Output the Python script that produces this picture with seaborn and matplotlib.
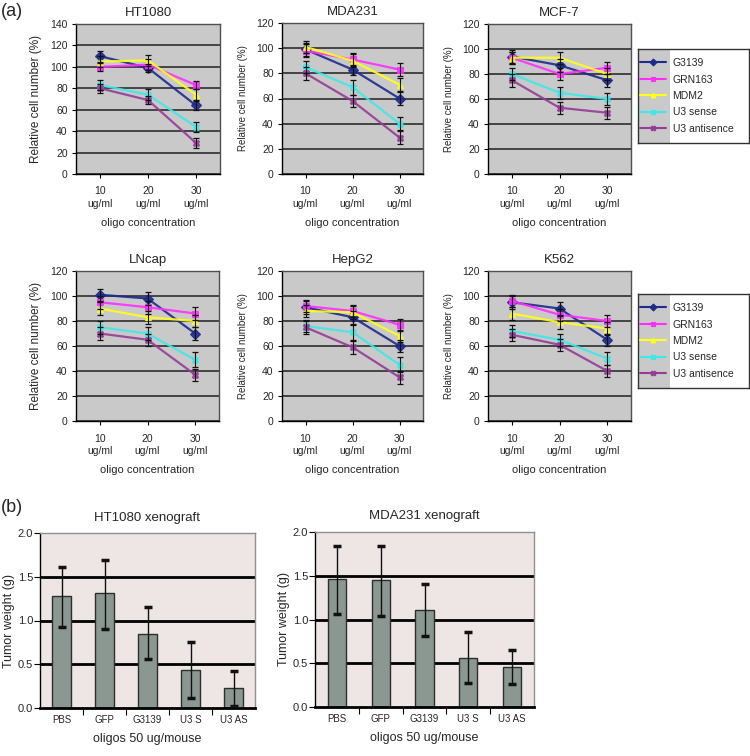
import numpy as np
import pandas as pd
import matplotlib
matplotlib.use("Agg")
import matplotlib.pyplot as plt
from matplotlib import font_manager
from matplotlib.lines import Line2D
from matplotlib.patches import Rectangle
import seaborn as sns

# ---------------- data ----------------
conc_labels = ["10\nug/ml", "20\nug/ml", "30\nug/ml"]
series = ["G3139", "GRN163", "MDM2", "U3 sense", "U3 antisence"]

ht1080 = [[110, 99, 64], [100, 102, 83], [105, 106, 74], [83, 74, 44], [80, 69, 29]]
ht1080_err = [[5, 4, 4], [4, 5, 4], [5, 5, 5], [5, 5, 5], [4, 4, 5]]
mda231 = [[99, 83, 60], [98, 91, 83], [101, 90, 71], [85, 69, 40], [80, 58, 29]]
mda231_err = [[5, 4, 5], [5, 5, 5], [5, 5, 5], [5, 6, 5], [5, 5, 5]]
mcf7 = [[94, 87, 75], [93, 80, 85], [93, 93, 80], [80, 65, 60], [75, 53, 49]]
mcf7_err = [[5, 5, 5], [5, 5, 5], [5, 5, 5], [5, 5, 5], [5, 5, 5]]
lncap = [[101, 98, 70], [95, 91, 86], [90, 83, 80], [75, 70, 49], [70, 65, 37]]
lncap_err = [[5, 5, 5], [5, 5, 5], [5, 5, 5], [5, 5, 6], [5, 5, 5]]
hepg2 = [[91, 83, 60], [92, 88, 77], [88, 87, 68], [76, 71, 45], [75, 59, 35]]
hepg2_err = [[5, 5, 5], [5, 5, 5], [5, 5, 5], [5, 6, 6], [5, 5, 5]]
k562 = [[95, 90, 65], [96, 85, 80], [86, 79, 74], [72, 65, 50], [69, 61, 40]]
k562_err = [[5, 5, 5], [5, 5, 5], [5, 5, 5], [5, 5, 5], [5, 5, 5]]

bar_cats = ["PBS", "GFP", "G3139", "U3 S", "U3 AS"]
ht_bar = [1.28, 1.31, 0.85, 0.43, 0.23]
ht_hi = [1.61, 1.69, 1.16, 0.76, 0.42]
ht_lo = [0.93, 0.90, 0.56, 0.11, 0.02]
mda_bar = [1.46, 1.45, 1.11, 0.56, 0.46]
mda_hi = [1.84, 1.84, 1.41, 0.86, 0.65]
mda_lo = [1.06, 1.04, 0.81, 0.28, 0.26]

# ---------------- style ----------------
sns.set_style("ticks")
avail = {f.name for f in font_manager.fontManager.ttflist}
main_font = ["Liberation Sans", "DejaVu Sans"]
narrow_font = ["Liberation Sans Narrow", "Liberation Sans", "DejaVu Sans"] if "Liberation Sans Narrow" in avail else main_font
plt.rcParams["font.family"] = main_font

palette = {"G3139": "#1c2b8c", "GRN163": "#ff2eff", "MDM2": "#ffff1a",
           "U3 sense": "#3ee8e8", "U3 antisence": "#963c96"}
markers = {"G3139": "D", "GRN163": "s", "MDM2": "^", "U3 sense": "X", "U3 antisence": "X"}

W, H = 750, 756
fig = plt.figure(figsize=(7.5, 7.56), dpi=100)


def px_axes(l, t, r, b):
    return fig.add_axes([l / W, 1 - b / H, (r - l) / W, (b - t) / H])


def line_panel(ax, vals, errs, title, ymax, ylab_size):
    rows = []
    for s, v in zip(series, vals):
        for i, y in enumerate(v):
            rows.append({"x": i, "value": y, "series": s})
    df = pd.DataFrame(rows)
    ax.set_facecolor("#c9c9c9")
    ax.set_yticks(range(0, ymax + 1, 20))
    ax.yaxis.grid(True, color="#3a3a3a", lw=1.3)
    ax.set_axisbelow(True)
    sns.lineplot(data=df, x="x", y="value", hue="series", style="series",
                 palette=palette, markers=markers, dashes=False, legend=False,
                 linewidth=1.6, markersize=5, ax=ax)
    for ln in ax.lines:
        ln.set_markeredgecolor(ln.get_color())
        ln.set_markeredgewidth(0.8)
        ln.set_alpha(0.9)
    for s, v, e in zip(series, vals, errs):
        ax.errorbar(range(3), v, yerr=e, fmt="none", ecolor="#111111",
                    elinewidth=0.8, capsize=2.5, capthick=0.9, zorder=4)
    ax.set_xlim(-0.5, 2.5)
    ax.set_ylim(0, ymax)
    ax.set_xticks(range(3))
    ax.set_xticklabels(conc_labels, linespacing=1.35)
    ax.tick_params(axis="both", labelsize=7.5, length=3, width=0.8, color="black", pad=3)
    ax.tick_params(axis="x", pad=6)
    ax.set_xlabel("oligo concentration", fontsize=8, labelpad=6)
    ax.set_ylabel("Relative cell number (%)", fontsize=ylab_size, labelpad=6)
    ax.set_title(title, fontsize=9.5, pad=6)
    for sp in ["top", "right"]:
        ax.spines[sp].set_color("#505050")
    for sp in ["left", "bottom"]:
        ax.spines[sp].set_color("black")
    for sp in ax.spines.values():
        sp.set_linewidth(1.0)


def legend_box(l, t, r, b):
    lax = px_axes(l, t, r, b)
    lax.set_xlim(0, 1)
    lax.set_ylim(0, 1)
    lax.set_xticks([])
    lax.set_yticks([])
    lax.add_patch(Rectangle((0, 0), 0.29, 1, color="#c9c9c9", lw=0))
    for sp in lax.spines.values():
        sp.set_color("#333333")
        sp.set_linewidth(1.0)
    handles = [Line2D([0], [0], color=palette[s], marker=markers[s], markersize=3.5,
                      mec=palette[s], mew=0.8, lw=1.5) for s in series]
    lax.legend(handles, series, loc="center left", bbox_to_anchor=(0.02, 0.5),
               frameon=False, fontsize=7.5, handlelength=2.5, handletextpad=0.6,
               labelspacing=0.62, borderaxespad=0, borderpad=0)


line_panel(px_axes(76, 24, 220, 174), ht1080, ht1080_err, "HT1080", 140, 8.5)
line_panel(px_axes(282, 23, 423, 174), mda231, mda231_err, "MDA231", 120, 7)
line_panel(px_axes(488, 24, 631, 174), mcf7, mcf7_err, "MCF-7", 120, 7)
line_panel(px_axes(76, 271, 219, 421), lncap, lncap_err, "LNcap", 120, 8.5)
line_panel(px_axes(282, 271, 423, 421), hepg2, hepg2_err, "HepG2", 120, 7)
line_panel(px_axes(488, 271, 631, 421), k562, k562_err, "K562", 120, 7)
legend_box(638, 49, 749, 143)
legend_box(638, 294, 749, 388)


def bar_panel(ax, vals, hi, lo, title):
    df = pd.DataFrame({"cat": bar_cats, "val": vals})
    ax.set_facecolor("#eee5e5")
    ax.set_yticks([0, 0.5, 1.0, 1.5, 2.0])
    for y in [0.5, 1.0, 1.5]:
        ax.axhline(y, color="black", lw=2, zorder=0.5)
    sns.barplot(data=df, x="cat", y="val", color="#8a9891", width=0.42,
                edgecolor="#2e2e2e", linewidth=1.0, saturation=1, ax=ax, zorder=2)
    v = np.array(vals)
    yerr = [v - np.array(lo), np.array(hi) - v]
    ax.errorbar(range(len(vals)), vals, yerr=yerr, fmt="none", ecolor="#111111",
                elinewidth=1.0, capsize=3, capthick=2.5, zorder=3)
    ax.set_xlim(-0.5, 4.5)
    ax.set_ylim(0, 2.0)
    ax.set_yticklabels(["0.0", "0.5", "1.0", "1.5", "2.0"], family=narrow_font, fontsize=8)
    ax.set_xticks(range(5))
    ax.set_xticklabels(bar_cats, family=narrow_font, fontsize=7)
    ax.set_xticks(np.arange(0.5, 4.5, 1), minor=True)
    ax.tick_params(axis="x", which="major", length=0, pad=5)
    ax.tick_params(axis="x", which="minor", length=5, width=0.8, color="black")
    ax.tick_params(axis="y", length=4, width=0.8, color="black", pad=1)
    ax.set_xlabel("oligos 50 ug/mouse", family=narrow_font, fontsize=9, labelpad=6)
    ax.set_ylabel("Tumor weight (g)", family=narrow_font, fontsize=9, labelpad=2)
    ax.set_title(title, family=narrow_font, fontsize=9.5, pad=9)
    ax.spines["bottom"].set_color("black")
    ax.spines["bottom"].set_linewidth(2)
    ax.spines["left"].set_color("black")
    ax.spines["left"].set_linewidth(1)
    for sp in ["top", "right"]:
        ax.spines[sp].set_color("#909090")
        ax.spines[sp].set_linewidth(1)


bar_panel(px_axes(40, 533, 255, 708), ht_bar, ht_hi, ht_lo, "HT1080 xenograft")
bar_panel(px_axes(315, 532, 534, 707), mda_bar, mda_hi, mda_lo, "MDA231 xenograft")

fig.text(1 / W, 1 - 12 / H, "(a)", fontsize=13, va="center", ha="left")
fig.text(1 / W, 1 - 507 / H, "(b)", fontsize=13, va="center", ha="left")

fig.savefig("out.png", dpi=100)
